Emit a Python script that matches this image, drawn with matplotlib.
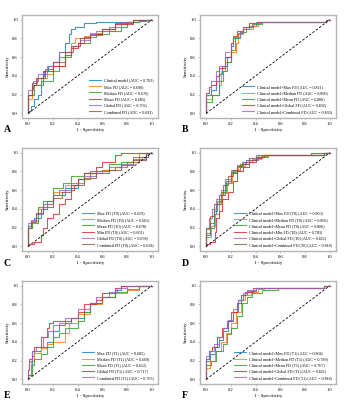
import matplotlib
matplotlib.use("Agg")
import matplotlib.pyplot as plt

plt.rcParams['font.family'] = ['Liberation Serif', 'DejaVu Serif']

# ---------------- Panel A ----------------
A_LABELS = ["Clinical model (AUC = 0.763)", "Max FD (AUC = 0.690)", "Median FD (AUC = 0.676)",
            "Mean FD (AUC = 0.685)", "Global FD (AUC = 0.702)", "Combined FD (AUC = 0.693)"]
A_CLINICAL = [(0,0),(0.02,0.03),(0.05,0.08),(0.08,0.15),(0.1,0.2),(0.12,0.3),(0.13,0.4),(0.16,0.45),(0.2,0.5),
              (0.25,0.55),(0.3,0.65),(0.33,0.75),(0.35,0.85),(0.38,0.9),(0.45,0.92),(0.55,0.96),(0.62,0.97),
              (0.9,0.97),(0.95,0.99),(1,1)]
A_MAX = [(0,0),(0,0.1),(0.03,0.15),(0.04,0.27),(0.1,0.3),(0.15,0.38),(0.2,0.42),(0.3,0.5),(0.35,0.65),(0.38,0.75),
         (0.45,0.8),(0.5,0.83),(0.6,0.86),(0.7,0.88),(0.8,0.95),(0.9,0.97),(1,1)]
A_MEDIAN = [(0,0),(0,0.05),(0.05,0.2),(0.1,0.3),(0.15,0.35),(0.2,0.35),(0.25,0.45),(0.35,0.6),(0.4,0.72),(0.5,0.75),
            (0.55,0.82),(0.65,0.85),(0.75,0.88),(0.8,0.92),(0.9,0.97),(1,1)]
A_MEAN = [(0,0),(0,0.12),(0.03,0.2),(0.06,0.3),(0.12,0.38),(0.2,0.45),(0.3,0.5),(0.35,0.62),(0.4,0.7),(0.45,0.75),
          (0.5,0.82),(0.6,0.85),(0.7,0.9),(0.85,0.95),(1,1)]
A_GLOBAL = [(0,0),(0,0.1),(0.04,0.25),(0.08,0.35),(0.15,0.42),(0.2,0.5),(0.25,0.55),(0.35,0.65),(0.42,0.72),
            (0.5,0.78),(0.55,0.85),(0.65,0.88),(0.75,0.92),(0.85,0.98),(1,1)]
A_COMBINED = [(0,0),(0,0.08),(0.03,0.2),(0.07,0.32),(0.14,0.38),(0.2,0.47),(0.3,0.55),(0.36,0.65),(0.42,0.72),
              (0.5,0.8),(0.6,0.84),(0.7,0.9),(0.85,0.96),(1,1)]

# ---------------- Panel B ----------------
B_LABELS = ["Clinical model+Max FD (AUC = 0.821)", "Clinical model+Median FD (AUC = 0.800)",
            "Clinical model+Mean FD (AUC = 0.806)", "Clinical model+Global FD (AUC = 0.832)",
            "Clinical model+Combined FD (AUC = 0.830)"]
B_MAX = [(0,0),(0,0.12),(0.04,0.2),(0.08,0.25),(0.1,0.35),(0.13,0.42),(0.17,0.5),(0.2,0.6),(0.22,0.72),(0.26,0.8),
         (0.3,0.86),(0.35,0.9),(0.4,0.93),(0.47,0.97),(0.97,0.97),(1,1)]
B_MEDIAN = [(0,0),(0,0.08),(0.05,0.15),(0.1,0.2),(0.12,0.3),(0.15,0.45),(0.2,0.55),(0.24,0.65),(0.26,0.75),
            (0.3,0.85),(0.38,0.9),(0.42,0.93),(0.48,0.97),(0.97,0.97),(1,1)]
B_MEAN = [(0,0),(0,0.05),(0.05,0.12),(0.1,0.2),(0.14,0.35),(0.17,0.45),(0.2,0.55),(0.23,0.68),(0.27,0.8),
          (0.32,0.87),(0.38,0.92),(0.45,0.95),(0.5,0.98),(0.97,0.98),(1,1)]
B_GLOBAL = [(0,0),(0,0.13),(0.02,0.22),(0.04,0.28),(0.08,0.3),(0.1,0.4),(0.15,0.48),(0.2,0.6),(0.22,0.75),
            (0.25,0.83),(0.3,0.88),(0.35,0.92),(0.42,0.96),(0.97,0.97),(1,1)]
B_COMBINED = [(0,0),(0,0.1),(0.04,0.2),(0.08,0.35),(0.1,0.45),(0.15,0.5),(0.2,0.65),(0.22,0.75),(0.27,0.82),
              (0.3,0.87),(0.37,0.92),(0.45,0.96),(0.97,0.97),(1,1)]

# ---------------- Panel C ----------------
C_LABELS = ["Max FD (T0) (AUC = 0.659)", "Median FD (T0) (AUC = 0.661)", "Mean FD (T0) (AUC = 0.678)",
            "Min FD (T0) (AUC = 0.602)", "Global FD (T0) (AUC = 0.658)", "Combined FD (T0) (AUC = 0.658)"]
C_MAX = [(0,0),(0,0.1),(0.02,0.22),(0.05,0.27),(0.1,0.3),(0.15,0.4),(0.2,0.48),(0.3,0.55),(0.4,0.62),(0.5,0.72),
         (0.6,0.8),(0.7,0.82),(0.8,0.85),(0.9,0.9),(0.97,0.95),(1,1)]
C_MEDIAN = [(0,0),(0,0.08),(0.03,0.2),(0.08,0.27),(0.12,0.4),(0.2,0.45),(0.3,0.58),(0.4,0.65),(0.5,0.72),
            (0.6,0.78),(0.7,0.82),(0.8,0.85),(0.9,0.9),(1,1)]
C_MEAN = [(0,0),(0,0.1),(0.03,0.2),(0.08,0.25),(0.12,0.42),(0.2,0.48),(0.28,0.62),(0.35,0.68),(0.45,0.75),
          (0.55,0.78),(0.65,0.8),(0.75,0.88),(0.85,0.9),(0.95,0.95),(1,1)]
C_MIN = [(0,0),(0.05,0.03),(0.1,0.05),(0.12,0.12),(0.15,0.2),(0.2,0.3),(0.25,0.35),(0.3,0.45),(0.35,0.5),
         (0.37,0.6),(0.4,0.65),(0.45,0.72),(0.55,0.78),(0.6,0.85),(0.7,0.9),(0.75,0.97),(0.85,1.0),(1,1)]
C_GLOBAL = [(0,0),(0,0.1),(0.02,0.25),(0.06,0.28),(0.12,0.35),(0.2,0.45),(0.25,0.55),(0.35,0.6),(0.45,0.68),
            (0.55,0.75),(0.65,0.8),(0.75,0.85),(0.85,0.88),(0.95,0.93),(1,1)]
C_COMBINED = [(0,0),(0,0.08),(0.02,0.2),(0.06,0.26),(0.12,0.36),(0.2,0.42),(0.27,0.52),(0.35,0.58),(0.45,0.66),
              (0.55,0.73),(0.65,0.78),(0.75,0.82),(0.85,0.87),(0.95,0.92),(1,1)]

# ---------------- Panel D ----------------
D_LABELS = ["Clinical model+Max FD (T0) (AUC = 0.800)", "Clinical model+Median FD (T0) (AUC = 0.806)",
            "Clinical model+Mean FD (T0) (AUC = 0.806)", "Clinical model+Min FD (T0) (AUC = 0.783)",
            "Clinical model+Global FD (T0) (AUC = 0.821)", "Clinical model+Combined FD (T0) (AUC = 0.818)"]
D_MAX = [(0,0),(0,0.07),(0.03,0.12),(0.06,0.2),(0.08,0.35),(0.12,0.45),(0.15,0.55),(0.2,0.68),(0.25,0.78),
         (0.3,0.85),(0.35,0.88),(0.42,0.92),(0.5,0.95),(0.58,0.97),(0.95,0.97),(1,1)]
D_MEDIAN = [(0,0),(0,0.05),(0.04,0.1),(0.07,0.22),(0.1,0.35),(0.13,0.47),(0.17,0.57),(0.21,0.68),(0.26,0.8),
            (0.31,0.86),(0.37,0.9),(0.44,0.93),(0.5,0.96),(0.95,0.97),(1,1)]
D_MEAN = [(0,0),(0,0.06),(0.03,0.14),(0.06,0.25),(0.09,0.38),(0.12,0.48),(0.16,0.58),(0.2,0.7),(0.25,0.79),
          (0.29,0.86),(0.35,0.9),(0.4,0.94),(0.48,0.97),(0.95,0.97),(1,1)]
D_MIN = [(0,0),(0.03,0.02),(0.07,0.05),(0.08,0.15),(0.1,0.3),(0.13,0.38),(0.18,0.5),(0.22,0.58),(0.25,0.7),
         (0.3,0.8),(0.35,0.85),(0.4,0.9),(0.45,0.94),(0.52,0.97),(0.85,0.97),(0.87,1.0),(1,1)]
D_GLOBAL = [(0,0),(0,0.12),(0.02,0.18),(0.05,0.3),(0.08,0.4),(0.12,0.5),(0.15,0.6),(0.2,0.72),(0.25,0.82),
            (0.3,0.87),(0.35,0.9),(0.42,0.94),(0.5,0.97),(0.95,0.97),(1,1)]
D_COMBINED = [(0,0),(0,0.1),(0.03,0.2),(0.06,0.32),(0.1,0.45),(0.14,0.55),(0.18,0.65),(0.22,0.75),(0.27,0.82),
              (0.32,0.88),(0.4,0.92),(0.47,0.95),(0.55,0.97),(0.95,0.97),(1,1)]

# ---------------- Panel E ----------------
E_LABELS = ["Max FD (T1) (AUC = 0.685)", "Median FD (T1) (AUC = 0.669)", "Mean FD (T1) (AUC = 0.652)",
            "Global FD (T1) (AUC = 0.717)", "Combined FD (T1) (AUC = 0.705)"]
E_MAX = [(0,0),(0.02,0.05),(0.03,0.15),(0.05,0.25),(0.1,0.3),(0.15,0.35),(0.2,0.4),(0.25,0.52),(0.3,0.58),
         (0.35,0.6),(0.45,0.65),(0.5,0.72),(0.6,0.82),(0.7,0.88),(0.75,0.95),(0.8,1.0),(1,1)]
E_MEDIAN = [(0,0),(0.02,0.05),(0.05,0.2),(0.1,0.28),(0.15,0.33),(0.2,0.38),(0.3,0.4),(0.33,0.5),(0.4,0.6),
            (0.5,0.7),(0.6,0.8),(0.7,0.88),(0.8,0.92),(0.9,0.95),(1,1)]
E_MEAN = [(0,0),(0.03,0.05),(0.05,0.15),(0.1,0.22),(0.15,0.27),(0.2,0.35),(0.25,0.45),(0.3,0.5),(0.4,0.55),
          (0.45,0.62),(0.5,0.72),(0.6,0.82),(0.7,0.88),(0.8,0.93),(0.9,0.96),(1,1)]
E_GLOBAL = [(0,0),(0.01,0.1),(0.03,0.22),(0.05,0.3),(0.1,0.35),(0.15,0.45),(0.17,0.55),(0.2,0.6),(0.35,0.62),
            (0.4,0.65),(0.45,0.72),(0.55,0.8),(0.6,0.85),(0.7,0.92),(0.75,0.97),(0.85,1.0),(1,1)]
E_COMBINED = [(0,0),(0.01,0.1),(0.03,0.2),(0.06,0.3),(0.12,0.35),(0.16,0.45),(0.2,0.52),(0.25,0.58),(0.3,0.6),
              (0.4,0.65),(0.5,0.75),(0.55,0.82),(0.65,0.88),(0.72,0.93),(0.8,0.97),(0.9,1.0),(1,1)]

# ---------------- Panel F ----------------
F_LABELS = ["Clinical model+Max FD (T1) (AUC = 0.804)", "Clinical model+Median FD (T1) (AUC = 0.789)",
            "Clinical model+Mean FD (T1) (AUC = 0.767)", "Clinical model+Global FD (T1) (AUC = 0.821)",
            "Clinical model+Combined FD (T1) (AUC = 0.818)"]
F_MAX = [(0,0),(0,0.12),(0.03,0.2),(0.07,0.27),(0.1,0.35),(0.14,0.42),(0.18,0.52),(0.22,0.62),(0.26,0.72),
         (0.3,0.85),(0.33,0.9),(0.4,0.94),(0.45,0.97),(0.95,0.97),(1,1)]
F_MEDIAN = [(0,0),(0,0.05),(0.03,0.12),(0.07,0.2),(0.12,0.3),(0.16,0.4),(0.2,0.5),(0.24,0.6),(0.28,0.72),
            (0.31,0.85),(0.36,0.9),(0.42,0.93),(0.47,0.96),(0.95,0.97),(1,1)]
F_MEAN = [(0,0),(0,0.08),(0.04,0.15),(0.08,0.2),(0.14,0.3),(0.17,0.38),(0.2,0.48),(0.25,0.55),(0.29,0.68),
          (0.33,0.82),(0.37,0.88),(0.45,0.92),(0.58,0.95),(0.95,0.97),(1,1)]
F_GLOBAL = [(0,0),(0,0.15),(0.02,0.22),(0.05,0.3),(0.09,0.35),(0.13,0.45),(0.17,0.55),(0.2,0.62),(0.25,0.72),
            (0.28,0.82),(0.31,0.9),(0.38,0.93),(0.43,0.97),(0.95,0.97),(1,1)]
F_COMBINED = [(0,0),(0,0.12),(0.03,0.25),(0.06,0.3),(0.1,0.38),(0.14,0.45),(0.18,0.55),(0.22,0.63),(0.26,0.75),
              (0.3,0.85),(0.33,0.92),(0.4,0.95),(0.42,0.98),(0.95,0.98),(1,1)]

PANELS = [
    ("A", A_LABELS, [A_CLINICAL, A_MAX, A_MEDIAN, A_MEAN, A_GLOBAL, A_COMBINED]),
    ("B", B_LABELS, [B_MAX, B_MEDIAN, B_MEAN, B_GLOBAL, B_COMBINED]),
    ("C", C_LABELS, [C_MAX, C_MEDIAN, C_MEAN, C_MIN, C_GLOBAL, C_COMBINED]),
    ("D", D_LABELS, [D_MAX, D_MEDIAN, D_MEAN, D_MIN, D_GLOBAL, D_COMBINED]),
    ("E", E_LABELS, [E_MAX, E_MEDIAN, E_MEAN, E_GLOBAL, E_COMBINED]),
    ("F", F_LABELS, [F_MAX, F_MEDIAN, F_MEAN, F_GLOBAL, F_COMBINED]),
]

COLORS = ['#1f77b4', '#ff7f0e', '#2ca02c', '#d62728', '#9467bd', '#8c564b']

W, H = 355, 400
fig = plt.figure(figsize=(W / 100, H / 100), dpi=100)

col_left = [22, 200]
row_top = [15, 148, 281]
ax_w, ax_h = 136, 103

for i, (letter, labels, curves) in enumerate(PANELS):
    r, c = divmod(i, 2)
    left = col_left[c] / W
    bottom = 1 - (row_top[r] + ax_h) / H
    ax = fig.add_axes([left, bottom, ax_w / W, ax_h / H])
    for j, (lab, pts) in enumerate(zip(labels, curves)):
        xs = [p[0] for p in pts]
        ys = [p[1] for p in pts]
        ax.plot(xs, ys, drawstyle='steps-pre', color=COLORS[j], lw=0.8, alpha=0.8, label=lab)
    ax.plot([0, 1], [0, 1], color='black', lw=0.6, ls=(0, (3, 2)))
    ax.set_xlim(-0.05, 1.05)
    ax.set_ylim(-0.05, 1.05)
    ticks = [0.0, 0.2, 0.4, 0.6, 0.8, 1.0]
    ax.set_xticks(ticks)
    ax.set_yticks(ticks)
    ax.set_xticklabels([f"{t:.1f}" for t in ticks])
    ax.set_yticklabels([f"{t:.1f}" for t in ticks])
    ax.tick_params(labelsize=3.3, length=1.5, width=0.4, color='#999999', pad=1.5)
    for sp in ax.spines.values():
        sp.set_color('#b5b5b5')
        sp.set_linewidth(1.0)
    ax.set_xlabel("1 - Specificity", fontsize=3.6, labelpad=1.5)
    ax.set_ylabel("Sensitivity", fontsize=3.6, labelpad=2)
    ax.legend(loc='lower right', fontsize=3.0, frameon=False, handlelength=2.8,
              labelspacing=0.55, borderaxespad=0.6, handletextpad=0.8)
    fig.text((col_left[c] - 18) / W, 1 - (row_top[r] + ax_h + 12) / H, letter,
             fontsize=7, fontweight='bold', ha='left', va='center')

fig.savefig("out.png", dpi=100)
